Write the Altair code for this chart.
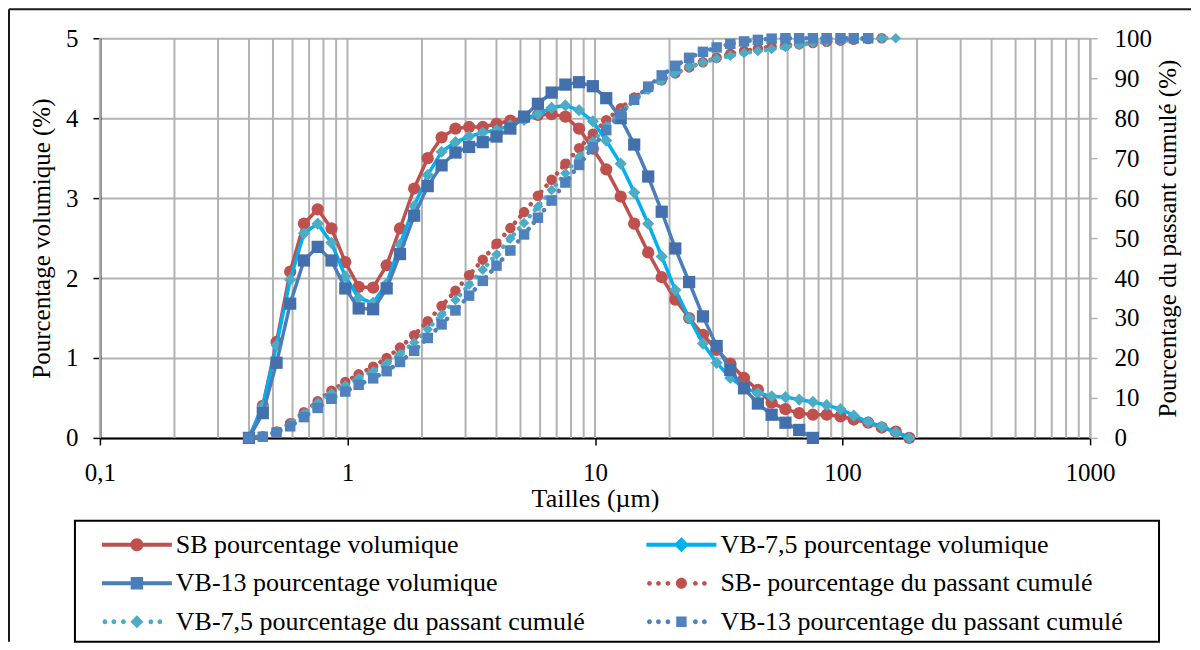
import altair as alt
import pandas as pd

# ---------------- data ----------------
sizes = [0.4, 0.455, 0.517, 0.587, 0.667, 0.758, 0.862, 0.980, 1.11, 1.27,
         1.44, 1.63, 1.86, 2.11, 2.40, 2.73, 3.10, 3.52, 4.00, 4.55,
         5.17, 5.88, 6.68, 7.59, 8.62, 9.80, 11.1, 12.7, 14.4, 16.4,
         18.6, 21.1, 24.0, 27.3, 31.0, 35.2, 40.0, 45.5, 51.7, 58.8,
         66.8, 75.9, 86.3, 98.1, 111, 127, 144, 164, 186]

sb_vol = [0, 0.40, 1.20, 2.08, 2.68, 2.86, 2.62, 2.20, 1.89, 1.88,
          2.16, 2.62, 3.12, 3.50, 3.76, 3.87, 3.89, 3.89, 3.93, 3.97,
          4.00, 4.04, 4.05, 4.02, 3.87, 3.62, 3.36, 3.02, 2.68, 2.32,
          2.01, 1.73, 1.50, 1.29, 1.10, 0.93, 0.75, 0.60, 0.44, 0.36,
          0.31, 0.29, 0.29, 0.27, 0.23, 0.19, 0.13, 0.08, 0.0]

vb75_vol = [0, 0.40, 1.16, 1.98, 2.56, 2.68, 2.44, 2.02, 1.75, 1.69,
            1.93, 2.42, 2.90, 3.29, 3.58, 3.70, 3.77, 3.82, 3.85, 3.91,
            3.98, 4.05, 4.13, 4.16, 4.10, 3.96, 3.72, 3.43, 3.07, 2.68,
            2.27, 1.85, 1.50, 1.18, 0.94, 0.75, 0.63, 0.56, 0.52, 0.51,
            0.48, 0.45, 0.41, 0.36, 0.28, 0.20, 0.14, 0.07, 0.0]

vb13_vol = [0, 0.31, 0.94, 1.68, 2.22, 2.39, 2.22, 1.87, 1.62, 1.61,
            1.87, 2.30, 2.78, 3.15, 3.41, 3.57, 3.64, 3.70, 3.77, 3.87,
            4.02, 4.18, 4.32, 4.42, 4.45, 4.40, 4.25, 4.00, 3.67, 3.27,
            2.83, 2.37, 1.95, 1.52, 1.15, 0.85, 0.62, 0.43, 0.29, 0.19,
            0.10, 0.0]

sb_cum = [0, 0.4, 1.6, 3.7, 6.4, 9.2, 11.8, 14.0, 15.9, 17.8,
          20.0, 22.6, 25.7, 29.2, 33.0, 36.8, 40.7, 44.6, 48.6, 52.5,
          56.5, 60.6, 64.6, 68.6, 72.5, 76.1, 79.5, 82.5, 85.2, 87.5,
          89.5, 91.2, 92.7, 94.0, 95.1, 96.1, 96.8, 97.4, 97.9, 98.2,
          98.5, 98.8, 99.1, 99.4, 99.6, 99.8, 100.0]

vb75_cum = [0, 0.4, 1.6, 3.5, 6.1, 8.8, 11.2, 13.2, 15.0, 16.7,
            18.6, 21.0, 23.9, 27.2, 30.8, 34.5, 38.3, 42.1, 45.9, 49.9,
            53.8, 57.9, 62.0, 66.2, 70.3, 74.2, 78.0, 81.4, 84.5, 87.1,
            89.4, 91.3, 92.8, 93.9, 94.9, 95.6, 96.3, 96.8, 97.3, 97.8,
            98.3, 98.8, 99.2, 99.5, 99.8, 100.0, 100.0, 100.0]

vb13_cum = [0, 0.3, 1.3, 2.9, 5.2, 7.5, 9.8, 11.6, 13.3, 14.9,
            16.7, 19.0, 21.8, 25.0, 28.4, 31.9, 35.6, 39.3, 43.1, 46.9,
            50.9, 55.1, 59.4, 63.9, 68.3, 72.7, 77.0, 81.0, 84.6, 87.9,
            90.7, 93.1, 95.1, 96.6, 97.7, 98.6, 99.2, 99.6, 99.9, 100.0,
            100.0, 100.0, 100.0, 100.0, 100.0, 100.0]

series_labels = ["SB pourcentage volumique",
                 "VB-7,5 pourcentage volumique",
                 "VB-13 pourcentage volumique",
                 "SB- pourcentage du passant cumulé",
                 "VB-7,5 pourcentage du passant cumulé",
                 "VB-13 pourcentage du passant cumulé"]

x_ticks = [0.1, 1, 10, 100, 1000]
x_grid = [m * d for d in [0.1, 1, 10, 100] for m in range(1, 10)] + [1000]
left_ticks = [0, 1, 2, 3, 4, 5]
right_ticks = [0, 10, 20, 30, 40, 50, 60, 70, 80, 90, 100]

# ---------------- styles ----------------
FONT = "Liberation Serif, Times New Roman, Times, serif"
RED = "#C0504D"
CYAN_LINE = "#00B0F0"
CYAN_MK = "#4BACC6"
BLUE_LINE = "#4A7EBB"
BLUE_MK = "#4370AC"
BLUE_CUM = "#4F81BD"
GRID = "#B2B2B2"


def frame(vals, key):
    return pd.DataFrame({"size": sizes[:len(vals)], key: vals})


x_enc = alt.X(
    "size:Q",
    scale=alt.Scale(type="log", domain=[0.1, 1000], nice=False),
    axis=alt.Axis(values=x_ticks,
                  labelExpr="datum.value < 1 ? '0,1' : format(datum.value, 'd')",
                  title="Tailles (µm)", grid=False,
                  domainColor="black", domainWidth=2,
                  tickColor="black", tickSize=7, tickWidth=1.5,
                  labelFont=FONT, labelFontSize=25, labelColor="black",
                  labelPadding=16, labelFlush=False,
                  titleFont=FONT, titleFontSize=26, titleFontWeight="normal",
                  titleColor="black", titlePadding=0),
)

y_vol = alt.Y(
    "v:Q",
    scale=alt.Scale(domain=[0, 5], nice=False),
    axis=alt.Axis(values=left_ticks, title="Pourcentage volumique (%)",
                  grid=True, gridColor=GRID, gridWidth=2,
                  domainColor="black", domainWidth=2,
                  tickColor="black", tickSize=7, tickWidth=1.5,
                  labelFont=FONT, labelFontSize=25, labelColor="black",
                  labelPadding=15,
                  titleFont=FONT, titleFontSize=25, titleFontWeight="normal",
                  titleColor="black", titlePadding=11),
)

y_cum = alt.Y(
    "c:Q",
    scale=alt.Scale(domain=[0, 100], nice=False),
    axis=alt.Axis(values=right_ticks, orient="right",
                  title="Pourcentage du passant cumulé (%)",
                  grid=False, domainColor=GRID, domainWidth=2,
                  tickColor=GRID, tickSize=7, tickWidth=1.5,
                  labelFont=FONT, labelFontSize=25, labelColor="black",
                  labelPadding=17, titleAngle=270, titleBaseline="top",
                  titleFont=FONT, titleFontSize=25, titleFontWeight="normal",
                  titleColor="black", titlePadding=4),
)

# vertical gridlines (log minor grid)
grid = alt.Chart(pd.DataFrame({"size": x_grid})).mark_rule(
    color=GRID, strokeWidth=2).encode(x=x_enc)


def vol_layers(vals, line_color, mk_color, shape):
    d = alt.Chart(frame(vals, "v"))
    ln = d.mark_line(color=line_color, strokeWidth=3.5).encode(x=x_enc, y=y_vol)
    pt = d.mark_point(shape=shape, filled=True, size=150, opacity=1,
                      color=mk_color).encode(x=x_enc, y=y_vol)
    return [ln, pt]


def cum_layers(vals, color, shape):
    d = alt.Chart(frame(vals, "c"))
    ln = d.mark_line(color=color, strokeWidth=4.5, strokeDash=[0.1, 8],
                     strokeCap="round").encode(x=x_enc, y=y_cum)
    pt = d.mark_point(shape=shape, filled=True, size=110, opacity=1,
                      color=color).encode(x=x_enc, y=y_cum)
    return [ln, pt]


# ---------- legend glyphs as custom symbol paths ----------
# symbol size 26px -> 13 px per path unit; glyph drawn 0..70 px to the right
SYM = 26
PX = SYM / 2.0


def U(p):
    return round((p - PX) / PX, 4)


def circ(cp, rp):
    cx, r = U(cp), round(rp / PX, 4)
    return f"M{cx + r},0A{r},{r} 0 1,1 {cx - r},0A{r},{r} 0 1,1 {cx + r},0Z"


def marker(kind, cp, rp):
    c, r = U(cp), round(rp / PX, 4)
    if kind == "circle":
        return circ(cp, rp)
    if kind == "diamond":
        return f"M{c},{-r}L{c + r},0L{c},{r}L{c - r},0Z"
    return f"M{c - r},{-r}L{c + r},{-r}L{c + r},{r}L{c - r},{r}Z"


def solid_glyph(kind):
    t = round(2.0 / PX, 4)
    return (f"M{U(0)},{-t}L{U(30)},{-t}L{U(30)},{t}L{U(0)},{t}Z"
            f"M{U(40)},{-t}L{U(70)},{-t}L{U(70)},{t}L{U(40)},{t}Z"
            + marker(kind, 35, {"circle": 6.5, "diamond": 7.5, "square": 6.2}[kind]))


def dotted_glyph(kind):
    dots = "".join(circ(p, 2.4) for p in [3, 12, 21.5, 49, 58])
    return dots + marker(kind, 35, {"circle": 5.5, "diamond": 6.5, "square": 5.2}[kind])


glyphs = [solid_glyph("circle"), solid_glyph("diamond"), solid_glyph("square"),
          dotted_glyph("circle"), dotted_glyph("diamond"), dotted_glyph("square")]
glyph_colors = [RED, CYAN_LINE, BLUE_LINE, RED, CYAN_MK, BLUE_CUM]

legend = alt.Legend(title=None, orient="none", legendX=2, legendY=494,
                    direction="horizontal",
                    columns=2, columnPadding=61, rowPadding=12.5,
                    symbolSize=SYM * SYM, symbolStrokeWidth=0,
                    labelFont=FONT, labelFontSize=26, labelColor="black",
                    labelLimit=800, labelOffset=48, padding=0)

leg_df = pd.DataFrame({"size": [1.0], "v": [1.0], "s": [series_labels[0]]})
legend_layer = alt.Chart(leg_df).transform_filter("false").mark_point(
    filled=True, size=SYM * SYM, opacity=1).encode(
    x=x_enc, y=y_vol,
    color=alt.Color("s:N", scale=alt.Scale(domain=series_labels, range=glyph_colors),
                    legend=legend),
    shape=alt.Shape("s:N", scale=alt.Scale(domain=series_labels, range=glyphs),
                    legend=legend),
)

vol = alt.layer(grid,
                *vol_layers(sb_vol, RED, RED, "circle"),
                *vol_layers(vb75_vol, CYAN_LINE, CYAN_MK, "diamond"),
                *vol_layers(vb13_vol, BLUE_LINE, BLUE_MK, "square"),
                legend_layer)

cum = alt.layer(*cum_layers(sb_cum, RED, "circle"),
                *cum_layers(vb75_cum, CYAN_MK, "diamond"),
                *cum_layers(vb13_cum, BLUE_CUM, "square"))

one = pd.DataFrame({"k": [0]})
frame_left = alt.Chart(one).mark_rule(color="#1a1a1a", strokeWidth=2).encode(
    x=alt.value(-91), y=alt.value(-29), y2=alt.value(604))
frame_top = alt.Chart(one).mark_rule(color="#1a1a1a", strokeWidth=2).encode(
    x=alt.value(-91), x2=alt.value(1092), y=alt.value(-29))
legend_box = alt.Chart(one).mark_rect(fill="white", stroke="black",
                                      strokeWidth=2).encode(
    x=alt.value(-25), x2=alt.value(1060), y=alt.value(483), y2=alt.value(604))

chart = alt.layer(legend_box, vol, cum, frame_left, frame_top).resolve_scale(
    y="independent"
).properties(
    width=991, height=400, padding=0, background="white"
).configure_view(strokeWidth=0)

chart.save("out.html", embed_options={"renderer": "svg", "actions": False})
